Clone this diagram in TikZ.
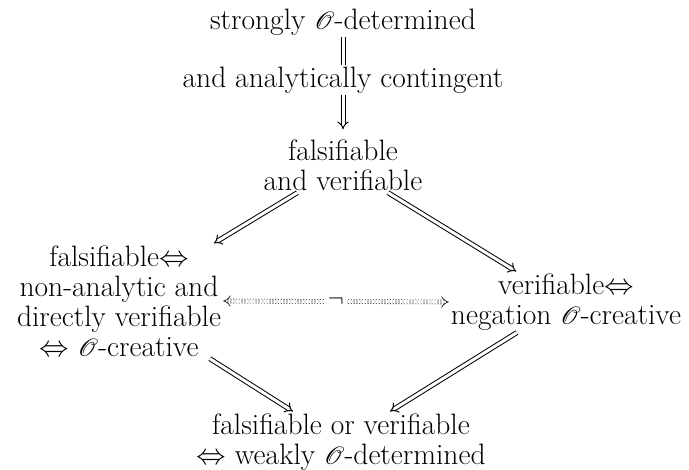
\documentclass[tikz,border=0pt]{standalone}
\usepackage{fix-cm}
\usepackage{fontspec}
\usepackage{mathrsfs}
\usetikzlibrary{arrows.meta}
\tikzstyle{stmt} = [align=center, font=\fontsize{29.5}{30}\selectfont, inner sep=2pt]
\tikzstyle{dbl} = [line width=1pt, double, double distance=3pt]
\tikzstyle{impl} = [dbl, -Implies]
\tikzstyle{negarrow} = [line width=0.6pt, double, double distance=3.4pt, dash pattern=on 1pt off 1.8pt, Implies-Implies]

\begin{document}
\begin{tikzpicture}[x=1pt, y=-1pt]
\useasboundingbox (0,0) rectangle (689,470);

\node (strong) [stmt] at (343,22) {strongly $\mathscr{O}$-determined};
\node (anlab) [stmt] at (343,80) {and analytically contingent};
\node (fv) [stmt] at (343,165) {falsifiable\\ and verifiable};
\node (fal) [stmt] at (119,301) {falsifiable$\Leftrightarrow$\\ non-analytic and\\ directly verifiable\\ $\Leftrightarrow$ $\mathscr{O}$-creative};
\node (ver) [stmt] at (566,302) {verifiable$\Leftrightarrow$\\ negation $\mathscr{O}$-creative};
\node (bot) [stmt] at (341,442) {falsifiable or verifiable\\ $\Leftrightarrow$ weakly $\mathscr{O}$-determined};

\draw [dbl] (strong) -- (anlab);
\draw [impl, shorten >=8pt] (anlab) -- (fv);
\draw [impl] (fv) -- (fal);
\draw [impl] (fv) -- (ver);
\draw [impl] (fal) -- (bot);
\draw [impl] (ver) -- (bot);
\draw [negarrow] (fal.east) -- node [fill=white, font=\fontsize{24}{24}\selectfont] {$\neg$} (ver.west);

\end{tikzpicture}
\end{document}
